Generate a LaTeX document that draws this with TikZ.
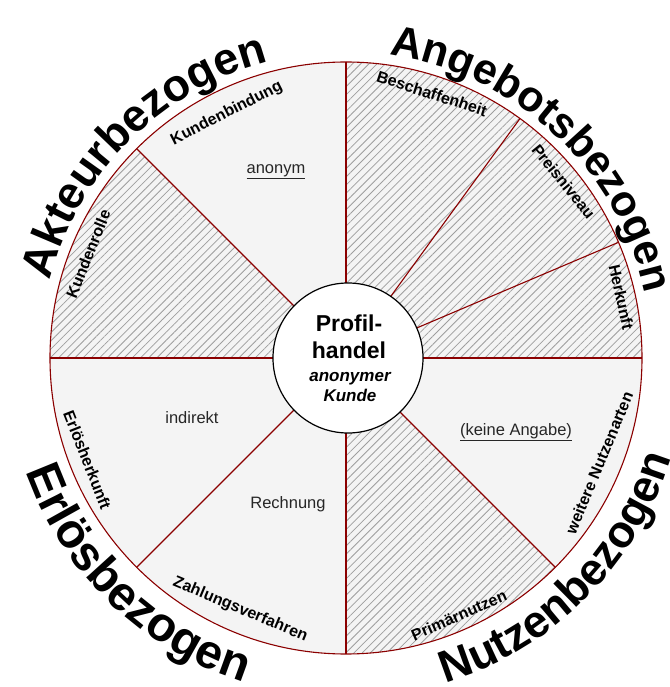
\documentclass[tikz,border=0pt]{standalone}
\usepackage{fontspec}
\setmainfont{Liberation Sans}
\usetikzlibrary{patterns.meta,decorations.text}
\definecolor{spokered}{RGB}{139,0,0}
\definecolor{sectorgray}{RGB}{244,244,244}
\newcommand{\sidefont}[1]{\bfseries\fontsize{#1}{#1}\selectfont}

\begin{document}
\begin{tikzpicture}[x=1pt,y=1pt,
    spoke/.style={draw=spokered,line width=1.1pt},
    hatched/.style={pattern={Lines[angle=45,distance=5.8pt,line width=0.8pt]},pattern color=black!38},
    aspect/.style={font=\bfseries\fontsize{16}{18}\selectfont,inner sep=0pt},
    value/.style={font=\fontsize{16.5}{18}\selectfont,text=black!85,inner sep=0pt},
  ]
    \path[use as bounding box,fill=white] (-346,-329) rectangle (323,358);
    % sectors
    \fill[sectorgray] (0,0) circle[radius=296];
    \path[hatched] (0,0) -- (0:296) arc[start angle=0,end angle=90,radius=296] -- cycle;
    \path[hatched] (0,0) -- (135:296) arc[start angle=135,end angle=180,radius=296] -- cycle;
    \path[hatched] (0,0) -- (270:296) arc[start angle=270,end angle=315,radius=296] -- cycle;
    % spokes
    \foreach \a in {0,23,54,90,135,180,225,270,315}
        \draw[spoke] (\a:70) -- (\a:296);
    \draw[spoke] (0,0) circle[radius=296];
    % hub
    \node[draw,circle,fill=white,line width=1.2pt,minimum size=150pt] (hub) at (2,0) {};
    \node[font=\bfseries\fontsize{23}{27}\selectfont,align=center] (hubtitle) at (3,21.5) {Profil-\\handel};
    \node[font=\bfseries\itshape\fontsize{17}{20}\selectfont,align=center] (hubsub) at (4,-29) {anonymer\\Kunde};
    % aspects
    \node[aspect,rotate=27] (kundenbindung) at (116:272) {Kundenbindung};
    \node[aspect,rotate=68] (kundenrolle) at (158:278) {Kundenrolle};
    \node[aspect,rotate=-18] (beschaffenheit) at (72:278) {Beschaffenheit};
    \node[aspect,rotate=-51] (preisniveau) at (39:280) {Preisniveau};
    \node[aspect,rotate=-77.5] (herkunft) at (12.5:282) {Herkunft};
    \node[aspect,rotate=67.5] (nutzenarten) at (-22.5:274) {weitere Nutzenarten};
    \node[aspect,rotate=23.7] (primaernutzen) at (-66.3:281) {Primärnutzen};
    \node[aspect,rotate=-22.8] (zahlungsverfahren) at (-112.8:273) {Zahlungsverfahren};
    \node[aspect,rotate=-68.5] (erloesherkunft) at (-158.5:278) {Erlösherkunft};
    % values
    \node[value] (anonym) at (-70,186) {\underline{anonym}};
    \node[value] (keineangabe) at (170,-74) {\underline{(keine Angabe)}};
    \node[value] (indirekt) at (-154,-60) {indirekt};
    \node[value] (rechnung) at (-58,-146) {Rechnung};
    % side titles
    \path[decorate,decoration={text along path,text align=center,text={|\sidefont{45}|Akteurbezogen}}]
        (180:306) arc[start angle=180,end angle=90,radius=306];
    \path[decorate,decoration={text along path,text align=center,text={|\sidefont{43}|Angebotsbezogen}}]
        (92:306) arc[start angle=92,end angle=2,radius=306];
    \path[decorate,decoration={text along path,text align=center,text={|\sidefont{48}|Erlösbezogen}}]
        (181:340) arc[start angle=181,end angle=271,radius=340];
    \path[decorate,decoration={text along path,text align=center,text={|\sidefont{45}|Nutzenbezogen}}]
        (270:340) arc[start angle=270,end angle=360,radius=340];
\end{tikzpicture}
\end{document}
